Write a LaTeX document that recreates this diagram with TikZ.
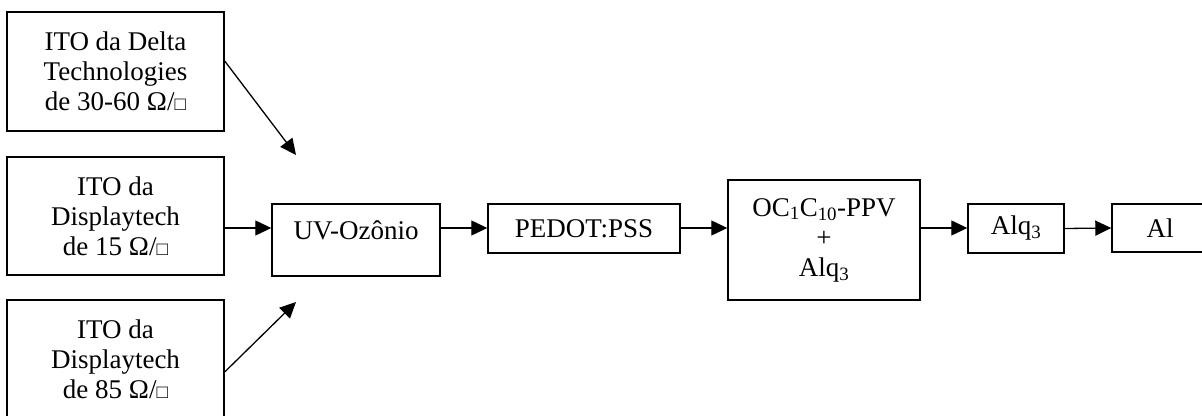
\documentclass[tikz,border=0pt]{standalone}
\usepackage{fontspec}
\setmainfont{Liberation Serif}
\usetikzlibrary{arrows.meta}
\newcommand{\sqr}{{\fontsize{19}{19}\selectfont □}}
\tikzset{
  blk/.style={draw, line width=1.4pt, inner sep=0pt, align=center,
    font=\fontsize{27}{30}\selectfont},
}
\begin{document}
\begin{tikzpicture}[x=1pt, y=1pt, >={Triangle[length=16pt,width=15pt]}, line width=1.3pt]
\useasboundingbox (0,0) rectangle (1202,415);
\clip (0,0) rectangle (1202,415);
% substrates
\node [blk, minimum width=217, minimum height=119] (delta) at (115.5,343.5)
  {ITO da Delta\\Technologies\\de 30-60 Ω/\sqr};
\node [blk, minimum width=217, minimum height=118] (disp15) at (115.5,199)
  {ITO da\\Displaytech\\de 15 Ω/\sqr};
\node [blk, minimum width=217, minimum height=119] (disp85) at (115.5,55.5)
  {ITO da\\Displaytech\\de 85 Ω/\sqr};
% process steps
\node [blk, minimum width=168, text height=36, text depth=36] (uv) at (356,175) {UV-Ozônio};
\node [blk, minimum width=192, minimum height=49] (pedot) at (584,186.5) {PEDOT:PSS};
\node [blk, minimum width=192, minimum height=120] (blend) at (824,175)
  {OC\textsubscript{1}C\textsubscript{10}-PPV\\+\\Alq\textsubscript{3}};
\node [blk, minimum width=96, minimum height=49] (alq) at (1016,186.5) {Alq\textsubscript{3}};
\node [blk, minimum width=96, minimum height=48] (al) at (1160,187) {Al};

\coordinate (lvl) at (0,187);
\coordinate (tip1) at (296,260);
\coordinate (tip3) at (296,113);
\draw [->]([yshift=10.5pt]delta.east)--(tip1);
\draw [->](disp15.east |- lvl)--(uv.west |- lvl);
\draw [->]([yshift=-12.5pt]disp85.east)--(tip3);
\draw [->](uv.east |- lvl)--(pedot.west |- lvl);
\draw [->](pedot.east |- lvl)--(blend.west |- lvl);
\draw [->](blend.east |- lvl)--(alq.west |- lvl);
\draw [->](alq.east)--(al.west);
\end{tikzpicture}
\end{document}
